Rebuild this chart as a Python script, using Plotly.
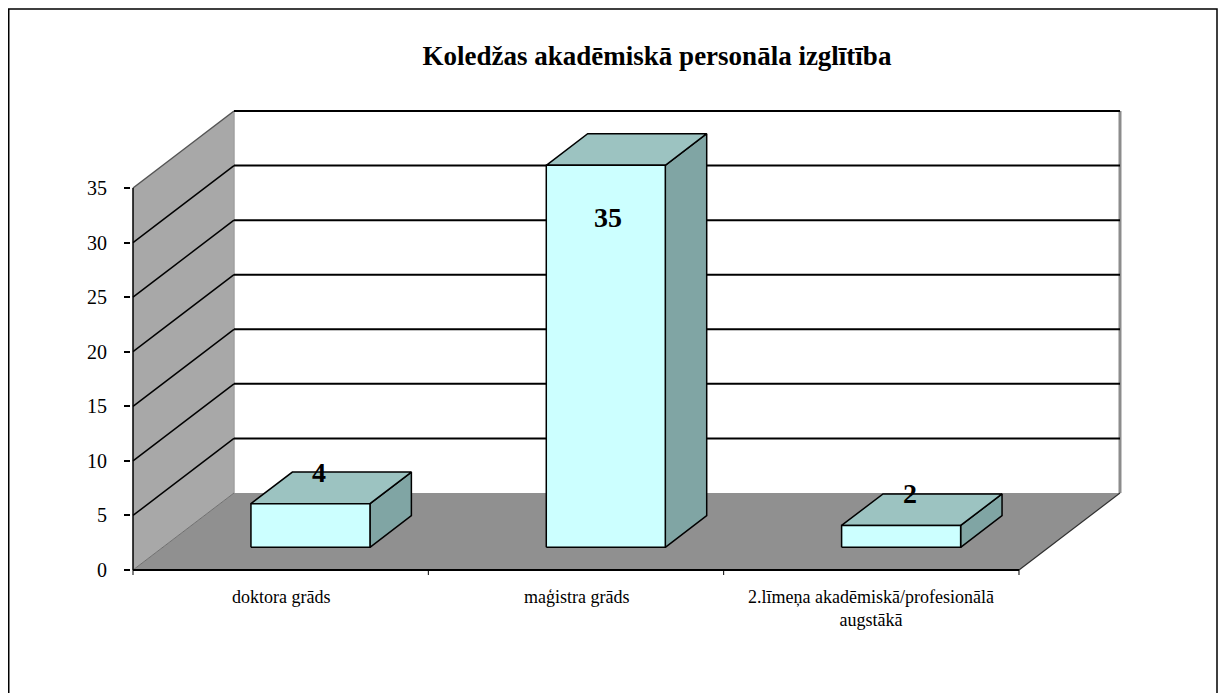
import plotly.graph_objects as go

# ---------------- data ----------------
categories = ["doktora grāds", "maģistra grāds", "2.līmeņa akadēmiskā/profesionālā<br>augstākā"]
values = [4, 35, 2]
y_ticks = [0, 5, 10, 15, 20, 25, 30, 35]
title_text = "Koledžas akadēmiskā personāla izglītība"

# ---------------- style / geometry ----------------
FONT = "Liberation Serif"
PAGE_OFF = 8                     # default body margin of the html page
W, H = 1227 - PAGE_OFF, 693 - PAGE_OFF
ORIGIN_PX = (133 - PAGE_OFF, 570 - PAGE_OFF)   # front-left corner of the floor (value 0)
CAT_PX = 295.33                  # pixels per category
UNIT_PX = 10.914                 # pixels per value unit
DEPTH_PX = (101, 77)             # oblique depth vector (right, up)
PLOT_L, PLOT_R = 131 - PAGE_OFF, 1125 - PAGE_OFF
PLOT_T, PLOT_B = 100 - PAGE_OFF, 576 - PAGE_OFF

DX = DEPTH_PX[0] / CAT_PX        # depth offset in category units
DY = DEPTH_PX[1] / UNIT_PX       # depth offset in value units
BAR_W = 0.403
BAR_D0, BAR_D1 = 0.295, 0.705

WALL_COL = "#a8a8a8"
FLOOR_COL = "#909090"
FRONT_COL = "#ccffff"
TOP_COL = "#9cc3c1"
SIDE_COL = "#80a5a4"

n = len(categories)
vmax = max(y_ticks)


def P(x, v, d):
    return x + d * DX, v + d * DY


fig = go.Figure()


def poly(pts, fill, line_color="black", line_width=1.5):
    xs = [p[0] for p in pts] + [pts[0][0]]
    ys = [p[1] for p in pts] + [pts[0][1]]
    fig.add_trace(go.Scatter(x=xs, y=ys, mode="lines", fill="toself", fillcolor=fill,
                             line=dict(color=line_color, width=line_width),
                             hoverinfo="skip", showlegend=False))


def seg(a, b, color="black", width=1.5):
    fig.add_trace(go.Scatter(x=[a[0], b[0]], y=[a[1], b[1]], mode="lines",
                             line=dict(color=color, width=width),
                             hoverinfo="skip", showlegend=False))


# left wall
poly([P(0, 0, 0), P(0, 0, 1), P(0, vmax, 1), P(0, vmax, 0)], WALL_COL, "rgba(0,0,0,0)", 0)
# floor
poly([P(0, 0, 0), P(n, 0, 0), P(n, 0, 1), P(0, 0, 1)], FLOOR_COL, "rgba(0,0,0,0)", 0)

# wall edges
seg(P(0, 0, 1), P(0, vmax, 1), "#a0a0a0", 1.5)        # back-left vertical edge
seg(P(n, 0, 1), P(n, vmax, 1), "#8c8c8c", 3)          # back-right vertical edge
seg(P(0, 0, 0), P(0, 0, 1), "#707070", 1)             # floor / left wall
seg(P(n, 0, 0), P(n, 0, 1), "#303030", 1.2)           # floor right edge
seg(P(0, vmax, 0), P(0, vmax, 1), "#555555", 1.5)     # left wall top edge

# gridlines
for t in y_ticks[1:]:
    seg(P(0, t, 1), P(n, t, 1), "black", 2)
    if t != vmax:
        seg(P(0, t, 0), P(0, t, 1), "black", 1.5)

# axes lines
seg(P(0, 0, 0), P(0, vmax, 0), "black", 1.5)
seg(P(0, 0, 0), P(n, 0, 0), "black", 2)
# category tick marks
tick_down = -5 / UNIT_PX
for i in range(n + 1):
    seg((i, 0), (i, tick_down), "black", 1)

# bars
for i, v in enumerate(values):
    x0 = i + 0.5 - BAR_W / 2
    x1 = i + 0.5 + BAR_W / 2
    # side face
    poly([P(x1, 0, BAR_D0), P(x1, 0, BAR_D1), P(x1, v, BAR_D1), P(x1, v, BAR_D0)], SIDE_COL)
    # top face
    poly([P(x0, v, BAR_D0), P(x1, v, BAR_D0), P(x1, v, BAR_D1), P(x0, v, BAR_D1)], TOP_COL)
    # front face
    poly([P(x0, 0, BAR_D0), P(x1, 0, BAR_D0), P(x1, v, BAR_D0), P(x0, v, BAR_D0)], FRONT_COL)

annotations = []
# data labels
for i, v in enumerate(values):
    if v > 0.8 * vmax:
        lx, ly = P(i + 0.5, v, BAR_D0)
        annotations.append(dict(x=lx, y=ly, text=str(v), showarrow=False, xanchor="center",
                                yanchor="middle", yshift=-52, xshift=2,
                                font=dict(family=FONT, size=28, color="black", weight="bold")))
    else:
        lx, ly = P(i + 0.5, v, BAR_D1)
        annotations.append(dict(x=lx, y=ly, text=str(v), showarrow=False, xanchor="center",
                                yanchor="middle", xshift=-33,
                                font=dict(family=FONT, size=28, color="black", weight="bold")))

# category labels
for i, c in enumerate(categories):
    annotations.append(dict(x=i + 0.5, y=0, text=c, showarrow=False, xanchor="center",
                            yanchor="top", yshift=-15,
                            font=dict(family=FONT, size=18, color="black")))

# chart border (paper coords)
pw = PLOT_R - PLOT_L
ph = PLOT_B - PLOT_T
border = dict(type="rect", xref="paper", yref="paper",
              x0=(0.75 - PLOT_L) / pw, x1=(1217 - PAGE_OFF - PLOT_L) / pw,
              y0=(PLOT_B - 720) / ph, y1=(PLOT_B - 1) / ph,
              line=dict(color="black", width=1.5), fillcolor="rgba(0,0,0,0)", layer="below")

fig.update_layout(
    width=W, height=H,
    margin=dict(l=PLOT_L, r=W - PLOT_R, t=PLOT_T, b=H - PLOT_B, pad=0),
    paper_bgcolor="white", plot_bgcolor="white",
    showlegend=False,
    title=dict(text=title_text, xref="container", yref="container",
               x=(657 - PAGE_OFF) / W, y=1 - (56 - PAGE_OFF) / H,
               xanchor="center", yanchor="middle",
               font=dict(family=FONT, size=27, color="black", weight="bold")),
    xaxis=dict(range=[(PLOT_L - ORIGIN_PX[0]) / CAT_PX, (PLOT_R - ORIGIN_PX[0]) / CAT_PX],
               visible=False, fixedrange=True),
    yaxis=dict(range=[(ORIGIN_PX[1] - PLOT_B) / UNIT_PX, (ORIGIN_PX[1] - PLOT_T) / UNIT_PX],
               tickvals=y_ticks, ticktext=[str(t) for t in y_ticks],
               showgrid=False, zeroline=False, showline=False,
               ticks="outside", ticklen=6, tickwidth=1.5, tickcolor="black",
               ticklabelstandoff=13,
               tickfont=dict(family=FONT, size=20, color="black"), fixedrange=True),
    annotations=annotations,
    shapes=[border],
)

fig.write_html("out.html")
